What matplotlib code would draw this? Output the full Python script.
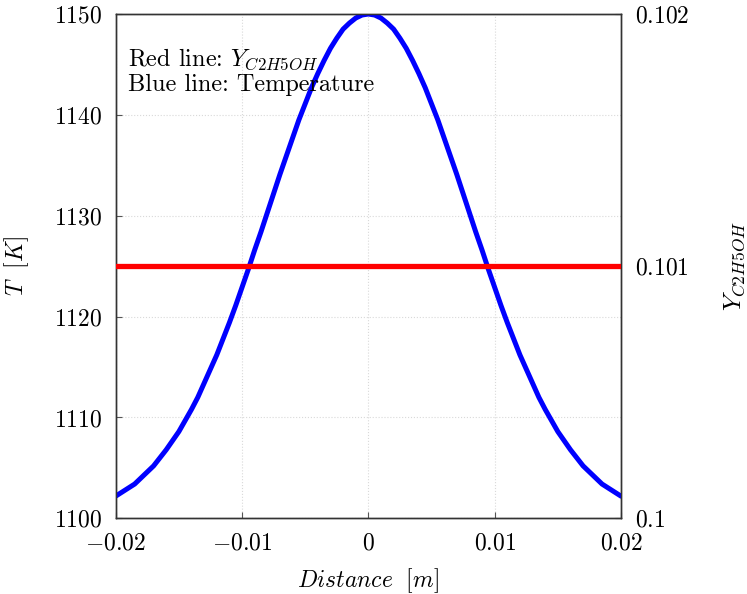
import matplotlib
matplotlib.use("Agg")
import matplotlib.pyplot as plt

plt.rcParams["mathtext.fontset"] = "cm"
plt.rcParams["font.family"] = "serif"
plt.rcParams["font.serif"] = ["cmr10", "DejaVu Serif"]
plt.rcParams["axes.formatter.use_mathtext"] = True

# distance [m] and temperature [K]
distance = [-0.0200, -0.0195, -0.0190, -0.0185, -0.0180, -0.0175, -0.0170, -0.0165, -0.0160, -0.0155,
            -0.0150, -0.0145, -0.0140, -0.0135, -0.0130, -0.0125, -0.0120, -0.0115, -0.0110, -0.0105,
            -0.0100, -0.0095, -0.0090, -0.0085, -0.0080, -0.0075, -0.0070, -0.0065, -0.0060, -0.0055,
            -0.0050, -0.0045, -0.0040, -0.0035, -0.0030, -0.0025, -0.0020, -0.0015, -0.0010, -0.0005,
            0.0000,
            0.0005, 0.0010, 0.0015, 0.0020, 0.0025, 0.0030, 0.0035, 0.0040, 0.0045, 0.0050,
            0.0055, 0.0060, 0.0065, 0.0070, 0.0075, 0.0080, 0.0085, 0.0090, 0.0095, 0.0100,
            0.0105, 0.0110, 0.0115, 0.0120, 0.0125, 0.0130, 0.0135, 0.0140, 0.0145, 0.0150,
            0.0155, 0.0160, 0.0165, 0.0170, 0.0175, 0.0180, 0.0185, 0.0190, 0.0195, 0.0200]
temperature = [1102.2, 1102.6, 1103.0, 1103.4, 1104.0, 1104.6, 1105.2, 1106.0, 1106.8, 1107.7,
               1108.6, 1109.7, 1110.8, 1112.0, 1113.4, 1114.8, 1116.2, 1117.8, 1119.4, 1121.1,
               1122.9, 1124.7, 1126.6, 1128.4, 1130.3, 1132.2, 1134.1, 1135.9, 1137.7, 1139.5,
               1141.1, 1142.7, 1144.1, 1145.4, 1146.6, 1147.6, 1148.5, 1149.1, 1149.6, 1149.9,
               1150.0,
               1149.9, 1149.6, 1149.1, 1148.5, 1147.6, 1146.6, 1145.4, 1144.1, 1142.7, 1141.1,
               1139.5, 1137.7, 1135.9, 1134.1, 1132.2, 1130.3, 1128.4, 1126.6, 1124.7, 1122.9,
               1121.1, 1119.4, 1117.8, 1116.2, 1114.8, 1113.4, 1112.0, 1110.8, 1109.7, 1108.6,
               1107.7, 1106.8, 1106.0, 1105.2, 1104.6, 1104.0, 1103.4, 1103.0, 1102.6, 1102.2]
# ethanol mass fraction is constant along the domain
y_ethanol_x = [-0.020, 0.020]
y_ethanol = [0.101, 0.101]

x_ticks = [-0.02, -0.01, 0, 0.01, 0.02]
x_tick_labels = ["-0.02", "-0.01", "0", "0.01", "0.02"]
t_ticks = [1100, 1110, 1120, 1130, 1140, 1150]
y_ticks = [0.1, 0.101, 0.102]
y_tick_labels = ["0.1", "0.101", "0.102"]

fig = plt.figure(figsize=(7.47, 5.94), dpi=100)
ax = fig.add_axes([0.1549, 0.1274, 0.6764, 0.849])

ax.plot(distance, temperature, color="#0000ff", linewidth=3.6,
        solid_joinstyle="round", solid_capstyle="round", zorder=3)
ax.set_xlim(-0.02, 0.02)
ax.set_ylim(1100, 1150)
ax.set_xticks(x_ticks)
ax.set_xticklabels([f"${l}$" for l in x_tick_labels])
ax.set_yticks(t_ticks)
ax.set_yticklabels([f"${t}$" for t in t_ticks])
ax.grid(True, color="#d9d9d9", linestyle=":", linewidth=0.8)
ax.tick_params(direction="in", labelsize=17, length=4, width=0.8, color="#555555", pad=10)
ax.set_xlabel(r"$Distance\ \ [m]$", fontsize=17)
ax.xaxis.set_label_coords(0.5, -0.095)
ax.set_ylabel(r"$T\ \ [K]$", fontsize=17, labelpad=16)
for s in ax.spines.values():
    s.set_color("#333333")
    s.set_linewidth(1.0)

ax.text(0.024, 0.935, "Red line: $Y_{C2H5OH}$\nBlue line: Temperature",
        transform=ax.transAxes, fontsize=17.5, va="top", ha="left", linespacing=1.1)

ax2 = ax.twinx()
ax2.plot(y_ethanol_x, y_ethanol, color="#ff0000", linewidth=3.8, zorder=4)
ax2.set_ylim(0.1, 0.102)
ax2.set_yticks(y_ticks)
ax2.set_yticklabels([f"${l}$" for l in y_tick_labels])
ax2.tick_params(direction="in", labelsize=17, length=4, width=0.8, color="#555555", pad=10)
ax2.set_ylabel(r"$Y_{C2H5OH}$", fontsize=18, rotation=90, va="center", ha="center")
ax2.yaxis.set_label_coords(1.2256, 0.5)
for s in ax2.spines.values():
    s.set_color("#333333")
    s.set_linewidth(1.0)

fig.savefig("out.png", dpi=100)
